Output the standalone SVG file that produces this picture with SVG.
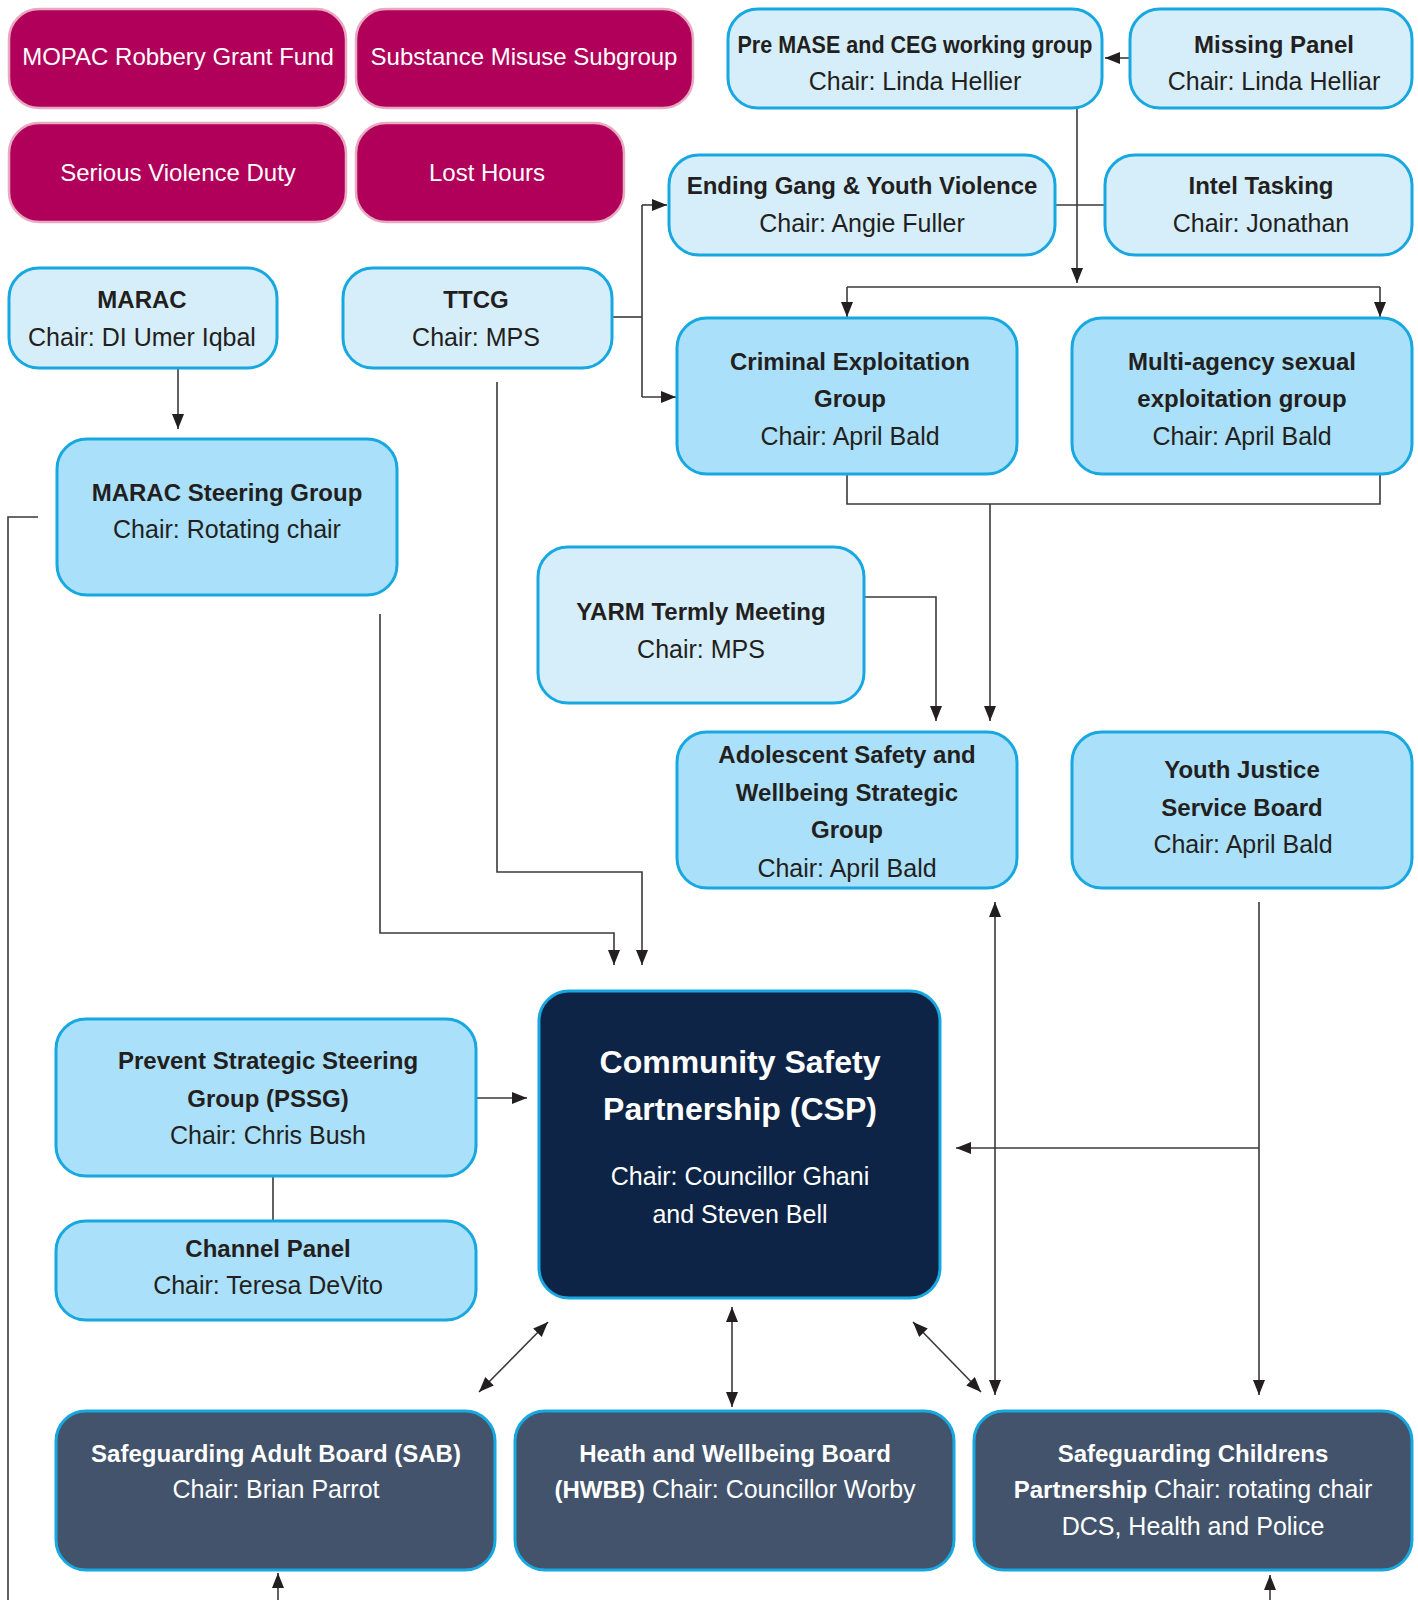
<svg xmlns="http://www.w3.org/2000/svg" width="1418" height="1600" viewBox="0 0 1418 1600">
<defs>
<style>
.mag{fill:#b1005a;stroke:#e8a9c1;stroke-width:2.5}
.lt{fill:#d6eefa;stroke:#17a8e1;stroke-width:3}
.md{fill:#aae0f9;stroke:#17a8e1;stroke-width:3}
.dk{fill:#0e2446;stroke:#17a8e1;stroke-width:3}
.sl{fill:#42536b;stroke:#17a8e1;stroke-width:3}
text{font-family:"Liberation Sans",Arial,sans-serif;text-anchor:middle}
.w{fill:#ffffff;font-size:24px}
.b{fill:#231f20;font-size:24px;font-weight:bold}
.r{fill:#231f20;font-size:25px}
.wb{fill:#ffffff;font-size:24px;font-weight:bold}
.wr{fill:#ffffff;font-size:25px}
.t{fill:#ffffff;font-size:32px;font-weight:bold}
.c{fill:none;stroke:#3a3a3a;stroke-width:1.6}
</style>
<marker id="ah" markerUnits="userSpaceOnUse" markerWidth="16" markerHeight="12" viewBox="0 0 16 12" refX="15" refY="6" orient="auto-start-reverse">
<path d="M0,0 L15,6 L0,12 z" fill="#231f20"/>
</marker>
</defs>

<g id="connectors">
<path class="c" d="M1130,58 H1105" marker-end="url(#ah)"/>
<path class="c" d="M1077,108 V283" marker-end="url(#ah)"/>
<path class="c" d="M1056,205 H1105"/>
<path class="c" d="M847,287 H1380"/>
<path class="c" d="M847,287 V317" marker-end="url(#ah)"/>
<path class="c" d="M1380,287 V317" marker-end="url(#ah)"/>
<path class="c" d="M612,317 H642"/>
<path class="c" d="M642,205 V397"/>
<path class="c" d="M642,205 H667" marker-end="url(#ah)"/>
<path class="c" d="M642,397 H676" marker-end="url(#ah)"/>
<path class="c" d="M178,368 V429" marker-end="url(#ah)"/>
<path class="c" d="M847,474 V504 H1380 V474"/>
<path class="c" d="M990,504 V721" marker-end="url(#ah)"/>
<path class="c" d="M864,597 H936 V721" marker-end="url(#ah)"/>
<path class="c" d="M380,614 V933 H614 V965" marker-end="url(#ah)"/>
<path class="c" d="M497,382 V872 H642 V965" marker-end="url(#ah)"/>
<path class="c" d="M38,517 H8 V1600"/>
<path class="c" d="M476,1098 H527" marker-end="url(#ah)"/>
<path class="c" d="M273,1176 V1221"/>
<path class="c" d="M995,902 V1395" marker-start="url(#ah)" marker-end="url(#ah)"/>
<path class="c" d="M1259,902 V1395" marker-end="url(#ah)"/>
<path class="c" d="M1259,1148 H956" marker-end="url(#ah)"/>
<path class="c" d="M479,1392 L548,1322" marker-start="url(#ah)" marker-end="url(#ah)"/>
<path class="c" d="M732,1407 V1307" marker-start="url(#ah)" marker-end="url(#ah)"/>
<path class="c" d="M913,1322 L981,1392" marker-start="url(#ah)" marker-end="url(#ah)"/>
<path class="c" d="M278,1600 V1573" marker-end="url(#ah)"/>
<path class="c" d="M1270,1600 V1575" marker-end="url(#ah)"/>
</g>

<g id="mopac"><rect class="mag" x="9" y="9" width="337" height="99" rx="30"/><text class="w" x="178" y="65">MOPAC Robbery Grant Fund</text></g>
<g id="substance"><rect class="mag" x="356" y="9" width="337" height="99" rx="30"/><text class="w" x="524" y="65">Substance Misuse Subgroup</text></g>
<g id="serious"><rect class="mag" x="9" y="123" width="337" height="99" rx="30"/><text class="w" x="178" y="181">Serious Violence Duty</text></g>
<g id="losthours"><rect class="mag" x="356" y="123" width="268" height="99" rx="30"/><text class="w" x="487" y="181">Lost Hours</text></g>

<g id="premase"><rect class="lt" x="728" y="9" width="374" height="99" rx="30"/><text class="b" x="915" y="53" textLength="355" lengthAdjust="spacingAndGlyphs">Pre MASE and CEG working group</text><text class="r" x="915" y="90">Chair: Linda Hellier</text></g>
<g id="missing"><rect class="lt" x="1130" y="9" width="282" height="99" rx="30"/><text class="b" x="1274" y="53">Missing Panel</text><text class="r" x="1274" y="90">Chair: Linda Helliar</text></g>
<g id="ending"><rect class="lt" x="669" y="155" width="386" height="100" rx="30"/><text class="b" x="862" y="194">Ending Gang &amp; Youth Violence</text><text class="r" x="862" y="232">Chair: Angie Fuller</text></g>
<g id="intel"><rect class="lt" x="1105" y="155" width="307" height="100" rx="30"/><text class="b" x="1261" y="194">Intel Tasking</text><text class="r" x="1261" y="232">Chair: Jonathan</text></g>
<g id="marac"><rect class="lt" x="9" y="268" width="268" height="100" rx="30"/><text class="b" x="142" y="308">MARAC</text><text class="r" x="142" y="346">Chair: DI Umer Iqbal</text></g>
<g id="ttcg"><rect class="lt" x="343" y="268" width="269" height="100" rx="30"/><text class="b" x="476" y="308">TTCG</text><text class="r" x="476" y="346">Chair: MPS</text></g>
<g id="criminal"><rect class="md" x="677" y="318" width="340" height="156" rx="30"/><text class="b" x="850" y="370">Criminal Exploitation</text><text class="b" x="850" y="407">Group</text><text class="r" x="850" y="445">Chair: April Bald</text></g>
<g id="multiagency"><rect class="md" x="1072" y="318" width="340" height="156" rx="30"/><text class="b" x="1242" y="370">Multi-agency sexual</text><text class="b" x="1242" y="407">exploitation group</text><text class="r" x="1242" y="445">Chair: April Bald</text></g>
<g id="maracsteering"><rect class="md" x="57" y="439" width="340" height="156" rx="30"/><text class="b" x="227" y="501">MARAC Steering Group</text><text class="r" x="227" y="538">Chair: Rotating chair</text></g>
<g id="yarm"><rect class="lt" x="538" y="547" width="326" height="156" rx="30"/><text class="b" x="701" y="620">YARM Termly Meeting</text><text class="r" x="701" y="658">Chair: MPS</text></g>
<g id="adolescent"><rect class="md" x="677" y="732" width="340" height="156" rx="30"/><text class="b" x="847" y="763">Adolescent Safety and</text><text class="b" x="847" y="801">Wellbeing Strategic</text><text class="b" x="847" y="838">Group</text><text class="r" x="847" y="877">Chair: April Bald</text></g>
<g id="youthjustice"><rect class="md" x="1072" y="732" width="340" height="156" rx="30"/><text class="b" x="1242" y="778">Youth Justice</text><text class="b" x="1242" y="816">Service Board</text><text class="r" x="1243" y="853">Chair: April Bald</text></g>
<g id="prevent"><rect class="md" x="56" y="1019" width="420" height="157" rx="30"/><text class="b" x="268" y="1069">Prevent Strategic Steering</text><text class="b" x="268" y="1107">Group (PSSG)</text><text class="r" x="268" y="1144">Chair: Chris Bush</text></g>
<g id="channel"><rect class="md" x="56" y="1221" width="420" height="99" rx="30"/><text class="b" x="268" y="1257">Channel Panel</text><text class="r" x="268" y="1294">Chair: Teresa DeVito</text></g>
<g id="csp"><rect class="dk" x="539" y="991" width="401" height="307" rx="30"/><text class="t" x="740" y="1073">Community Safety</text><text class="t" x="740" y="1120">Partnership (CSP)</text><text class="wr" x="740" y="1185">Chair: Councillor Ghani</text><text class="wr" x="740" y="1223">and Steven Bell</text></g>
<g id="sab"><rect class="sl" x="56" y="1411" width="439" height="159" rx="30"/><text class="wb" x="276" y="1462">Safeguarding Adult Board (SAB)</text><text class="wr" x="276" y="1498">Chair: Brian Parrot</text></g>
<g id="hwbb"><rect class="sl" x="515" y="1411" width="439" height="159" rx="30"/><text class="wb" x="735" y="1462">Heath and Wellbeing Board</text><text class="wr" x="735" y="1498"><tspan font-weight="bold" font-size="24">(HWBB)</tspan> Chair: Councillor Worby</text></g>
<g id="scp"><rect class="sl" x="974" y="1411" width="438" height="159" rx="30"/><text class="wb" x="1193" y="1462">Safeguarding Childrens</text><text class="wr" x="1193" y="1498"><tspan font-weight="bold" font-size="24">Partnership</tspan> Chair: rotating chair</text><text class="wr" x="1193" y="1535">DCS, Health and Police</text></g>
</svg>
